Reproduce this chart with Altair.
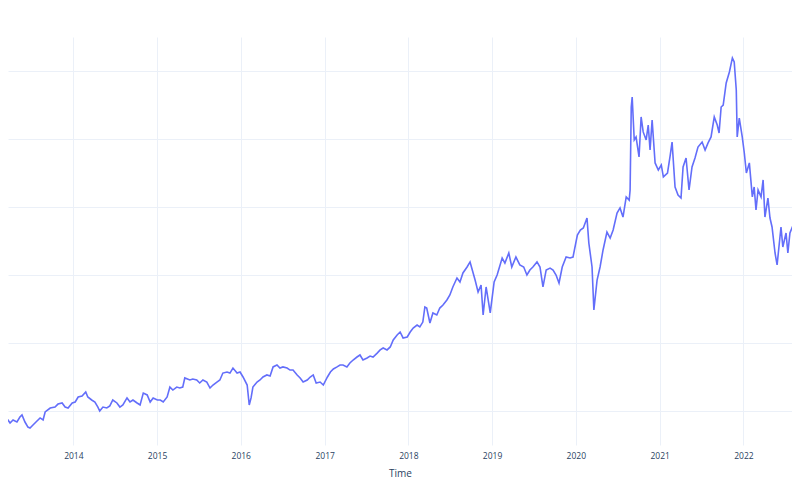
import altair as alt
import pandas as pd

dates = [
    "2013-02-16", "2013-03-01", "2013-03-09", "2013-03-22", "2013-03-31", "2013-04-13", "2013-04-30", "2013-05-13",
    "2013-05-22", "2013-06-04", "2013-06-17", "2013-06-26", "2013-07-09", "2013-07-22", "2013-08-09", "2013-08-22",
    "2013-08-31", "2013-09-22", "2013-10-13", "2013-10-26", "2013-11-13", "2013-11-26", "2013-12-09", "2013-12-27",
    "2014-01-09", "2014-01-22", "2014-02-08", "2014-02-24", "2014-03-05", "2014-03-22", "2014-04-05", "2014-04-18",
    "2014-04-26", "2014-05-10", "2014-05-27", "2014-06-09", "2014-06-22", "2014-07-10", "2014-07-23", "2014-08-05",
    "2014-08-23", "2014-09-05", "2014-09-18", "2014-10-06", "2014-10-19", "2014-11-02", "2014-11-19", "2014-12-02",
    "2014-12-15",
    "2015-01-02", "2015-01-15", "2015-01-28", "2015-02-14", "2015-02-26", "2015-03-11", "2015-03-28", "2015-04-10",
    "2015-04-23", "2015-05-02", "2015-05-24", "2015-06-06", "2015-06-23", "2015-07-06", "2015-07-20", "2015-08-06",
    "2015-08-20", "2015-09-02", "2015-09-19", "2015-10-02", "2015-10-15", "2015-11-02", "2015-11-15", "2015-11-28",
    "2015-12-16", "2015-12-29",
    "2016-01-11", "2016-01-29", "2016-02-07", "2016-02-15", "2016-02-23", "2016-03-12", "2016-03-25", "2016-04-07",
    "2016-04-24", "2016-05-08", "2016-05-21", "2016-06-07", "2016-06-20", "2016-07-03", "2016-07-21", "2016-08-03",
    "2016-08-16", "2016-09-03", "2016-09-16", "2016-09-29", "2016-10-17", "2016-10-30", "2016-11-12", "2016-11-25",
    "2016-12-12", "2016-12-26",
    "2017-01-13", "2017-01-26", "2017-02-08", "2017-02-24", "2017-03-09", "2017-03-22", "2017-04-08", "2017-04-21",
    "2017-05-05", "2017-05-22", "2017-06-04", "2017-06-17", "2017-07-05", "2017-07-18", "2017-07-31", "2017-08-18",
    "2017-08-31", "2017-09-13", "2017-09-30", "2017-10-14", "2017-10-27", "2017-11-13", "2017-11-26", "2017-12-09",
    "2017-12-27",
    "2018-01-09", "2018-01-22", "2018-02-08", "2018-02-20", "2018-03-05", "2018-03-14", "2018-03-22", "2018-04-05",
    "2018-04-18", "2018-05-05", "2018-05-18", "2018-06-01", "2018-06-18", "2018-07-01", "2018-07-14", "2018-08-01",
    "2018-08-14", "2018-08-27", "2018-09-14", "2018-09-27", "2018-10-19", "2018-11-01", "2018-11-14", "2018-11-23",
    "2018-12-06", "2018-12-24",
    "2019-01-10", "2019-01-23", "2019-02-05", "2019-02-14", "2019-02-26", "2019-03-15", "2019-03-28", "2019-04-15",
    "2019-05-02", "2019-05-19", "2019-06-02", "2019-06-15", "2019-06-28", "2019-07-16", "2019-07-29", "2019-08-11",
    "2019-08-25", "2019-09-11", "2019-09-24", "2019-10-07", "2019-10-20", "2019-11-03", "2019-11-20", "2019-12-07",
    "2019-12-20",
    "2020-01-08", "2020-01-21", "2020-02-03", "2020-02-19", "2020-02-27", "2020-03-12", "2020-03-20", "2020-04-03",
    "2020-04-16", "2020-04-29", "2020-05-16", "2020-05-30", "2020-06-12", "2020-06-29", "2020-07-12", "2020-07-25",
    "2020-08-08", "2020-08-21", "2020-08-25", "2020-08-30", "2020-09-03", "2020-09-12", "2020-09-20", "2020-10-03",
    "2020-10-12", "2020-10-21", "2020-11-03", "2020-11-12", "2020-11-20", "2020-11-29", "2020-12-12", "2020-12-26",
    "2021-01-08", "2021-01-17", "2021-02-04", "2021-02-16", "2021-02-24", "2021-03-09", "2021-03-22", "2021-04-04",
    "2021-04-13", "2021-04-26", "2021-05-09", "2021-05-22", "2021-06-04", "2021-06-17", "2021-07-05", "2021-07-18",
    "2021-07-31", "2021-08-13", "2021-08-27", "2021-09-09", "2021-09-17", "2021-09-26", "2021-10-05", "2021-10-18",
    "2021-11-01", "2021-11-14", "2021-11-22", "2021-12-01", "2021-12-05", "2021-12-14", "2021-12-27",
    "2022-01-05", "2022-01-14", "2022-01-27", "2022-02-09", "2022-02-17", "2022-02-25", "2022-03-06", "2022-03-19",
    "2022-03-28", "2022-04-05", "2022-04-18", "2022-04-27", "2022-05-06", "2022-05-19", "2022-05-28", "2022-06-05",
    "2022-06-14", "2022-06-22", "2022-07-06", "2022-07-14", "2022-07-23", "2022-08-06", "2022-08-19", "2022-08-28",
    "2022-09-05",
]

values = [
    44.9, 42.6, 45.6, 43.4, 41.2, 43.4, 41.9, 45.6, 47.1, 41.9, 38.2, 37.5, 39.7, 41.9, 44.9, 43.4,
    49.3, 52.2, 52.9, 55.1, 55.9, 52.9, 52.2, 55.9,
    56.6, 60.3, 61.0, 64.0, 60.3, 58.1, 56.6, 52.9, 50.0, 52.9, 52.2, 53.7, 58.1, 55.9, 52.9, 54.4,
    59.6, 56.6, 58.1, 55.9, 54.4, 63.2, 61.8, 56.6, 59.6,
    58.1, 58.1, 56.6, 60.3, 67.6, 65.4, 67.6, 66.9, 67.6, 74.3, 72.8, 73.5, 72.8, 70.6, 72.8, 71.3,
    66.9, 69.1, 71.3, 72.8, 77.9, 78.7, 77.9, 81.6, 77.9, 78.7,
    75.0, 69.1, 54.4, 59.6, 67.6, 71.3, 72.8, 75.0, 76.5, 75.7, 82.4, 83.8, 81.6, 82.4, 81.6, 80.1,
    80.1, 76.5, 74.3, 71.3, 72.8, 75.0, 76.5, 70.6, 71.3, 69.1,
    75.0, 78.7, 80.9, 82.4, 83.8, 83.8, 82.4, 85.3, 87.5, 89.7, 91.2, 87.5, 89.0, 90.4, 89.7, 92.6,
    94.9, 96.3, 94.9, 97.1, 102.2, 105.9, 108.1, 103.7, 104.4,
    108.1, 111.0, 113.2, 111.8, 115.4, 126.5, 125.7, 114.7, 122.1, 120.6, 125.7, 127.9, 131.6, 135.3, 141.2, 147.8,
    144.9, 151.5, 155.9, 159.6, 146.3, 137.5, 142.6, 120.6, 141.2, 122.1,
    144.9, 150.0, 157.4, 162.5, 158.8, 166.2, 155.9, 163.2, 157.4, 155.9, 150.0, 153.7, 155.9, 159.6, 155.9, 141.2,
    153.7, 155.1, 153.7, 150.0, 144.1, 155.9, 163.2, 162.5, 163.2,
    179.4, 183.1, 184.6, 191.9, 173.5, 155.9, 124.3, 146.3, 155.9, 168.4, 181.6, 177.2, 183.1, 195.6, 199.3, 192.6,
    207.4, 205.1, 212.5, 273.5, 280.9, 249.3, 251.5, 236.8, 266.2, 255.2, 249.3, 260.3, 241.9, 263.9, 232.4, 227.2,
    230.9, 222.1, 225.0, 238.2, 247.8, 214.7, 208.8, 206.6, 229.4, 236.0, 212.5, 229.4, 236.0, 244.1, 247.8, 241.9,
    247.1, 251.5, 266.2, 260.3, 254.4, 273.5, 275.0, 291.2, 299.3, 309.6, 306.6, 286.0, 251.5, 265.4, 251.5,
    239.7, 225.0, 232.4, 207.4, 214.7, 197.8, 212.5, 207.4, 219.9, 192.6, 206.6, 191.9, 185.3, 166.2, 157.4, 170.6,
    185.3, 170.6, 180.9, 166.2, 180.9, 186.8, 189.0, 177.9, 153.7,
]

tick_years = [2014, 2015, 2016, 2017, 2018, 2019, 2020, 2021, 2022]
grid_values = [50, 100, 150, 200, 250, 300]
x_start = "2013-03-22"
x_end = "2022-08-01"

df = pd.DataFrame({"Time": pd.to_datetime(dates), "value": values})

x_domain = [int(pd.Timestamp(x_start).value // 10**6), int(pd.Timestamp(x_end).value // 10**6)]

chart = (
    alt.Chart(df)
    .mark_line(color="#636EFA", strokeWidth=1.6, clip=True)
    .encode(
        x=alt.X(
            "Time:T",
            scale=alt.Scale(domain=x_domain, nice=False),
            axis=alt.Axis(
                title="Time",
                format="%Y",
                values=[alt.DateTime(year=y, month=1, date=1) for y in tick_years],
                ticks=False,
                tickSize=0,
                domain=False,
                grid=True,
                gridColor="#EBF0F8",
                gridWidth=1,
                labelFont="Open Sans",
                labelFontSize=8.5,
                labelColor="#2a3f5f",
                labelPadding=6,
                titleFont="Open Sans",
                titleFontSize=10,
                titleFontWeight="normal",
                titleColor="#2a3f5f",
                titlePadding=9,
            ),
        ),
        y=alt.Y(
            "value:Q",
            scale=alt.Scale(domain=[25, 325], nice=False, zero=False),
            axis=alt.Axis(
                title=None,
                values=grid_values,
                labels=False,
                ticks=False,
                tickSize=0,
                domain=False,
                grid=True,
                gridColor="#EBF0F8",
                gridWidth=1,
            ),
        ),
    )
    .properties(
        width=784,
        height=408,
        padding={"top": 29, "left": 0, "right": 0, "bottom": 5},
        background="white",
    )
    .configure_view(stroke=None)
)

chart.save("out.html", embed_options={"renderer": "svg", "actions": False})
